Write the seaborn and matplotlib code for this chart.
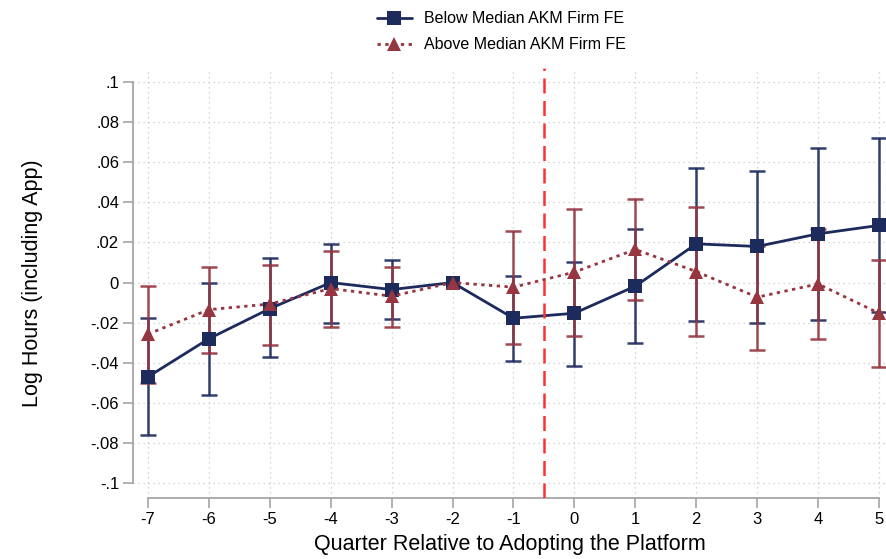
import numpy as np
import pandas as pd
import matplotlib
matplotlib.use("Agg")
import matplotlib.pyplot as plt
import seaborn as sns

# Event-study estimates by quarter relative to platform adoption
quarters = [-7, -6, -5, -4, -3, -2, -1, 0, 1, 2, 3, 4, 5]

below_coef = [-0.047, -0.028, -0.013, 0.000, -0.0035, 0.0, -0.0178, -0.0153, -0.0018, 0.0193, 0.018, 0.0243, 0.0285]
below_lo = [-0.076, -0.056, -0.037, -0.020, -0.018, 0.0, -0.039, -0.0415, -0.0303, -0.019, -0.020, -0.0185, -0.0148]
below_hi = [-0.0178, 0.000, 0.012, 0.0193, 0.011, 0.0, 0.0035, 0.010, 0.0265, 0.0573, 0.0557, 0.0673, 0.072]

above_coef = [-0.0257, -0.0135, -0.0107, -0.003, -0.0068, 0.0, -0.0023, 0.0052, 0.0165, 0.0055, -0.0073, -0.0007, -0.0153]
above_lo = [-0.050, -0.035, -0.031, -0.022, -0.022, 0.0, -0.0307, -0.0265, -0.0085, -0.0268, -0.0337, -0.028, -0.0423]
above_hi = [-0.0015, 0.0077, 0.0088, 0.0157, 0.0077, 0.0, 0.0257, 0.0365, 0.0415, 0.0377, 0.018, 0.0268, 0.011]

series_names = ["Below Median AKM Firm FE", "Above Median AKM Firm FE"]
y_ticks = [-0.1, -0.08, -0.06, -0.04, -0.02, 0, 0.02, 0.04, 0.06, 0.08, 0.1]
y_tick_labels = ["-.1", "-.08", "-.06", "-.04", "-.02", "0", ".02", ".04", ".06", ".08", ".1"]
adoption_line = -0.5

NAVY = "#1c2a5c"
CRANBERRY = "#953640"
GRID = "#c8c8c8"
AXIS = "#a6a6a6"

sns.set_theme(style="white")
plt.rcParams["font.family"] = ["Liberation Sans", "DejaVu Sans"]
plt.rcParams["text.color"] = "black"
plt.rcParams["axes.labelcolor"] = "black"

df = pd.concat([
    pd.DataFrame({"quarter": quarters, "coef": below_coef, "lo": below_lo, "hi": below_hi,
                  "group": series_names[0]}),
    pd.DataFrame({"quarter": quarters, "coef": above_coef, "lo": above_lo, "hi": above_hi,
                  "group": series_names[1]}),
])

fig = plt.figure(figsize=(8.86, 5.59), dpi=100)
ax = fig.add_axes([0.1501, 0.1096, 0.8499, 0.7688])

palette = {series_names[0]: NAVY, series_names[1]: CRANBERRY}

# confidence intervals as capped vertical bars
for name in series_names:
    sub = df[df["group"] == name]
    sub = sub[sub["hi"] != sub["lo"]]
    ax.errorbar(sub["quarter"], sub["coef"],
                yerr=[sub["coef"] - sub["lo"], sub["hi"] - sub["coef"]],
                fmt="none", ecolor=palette[name], elinewidth=1.8,
                capsize=6, capthick=1.8, alpha=0.9, zorder=2)

# point estimates connected by lines
sns.lineplot(data=df, x="quarter", y="coef", hue="group", style="group",
             hue_order=series_names, style_order=series_names,
             palette=palette, markers={series_names[0]: "s", series_names[1]: "^"},
             dashes={series_names[0]: "", series_names[1]: (1.2, 1.6)},
             markersize=10, markeredgewidth=0, linewidth=2, ax=ax, zorder=3)

ax.axvline(adoption_line, color="#ff3030", linestyle=(0, (6, 3)), linewidth=1.8, zorder=4)

ax.set_xlim(-7.246, 5.115)
ax.set_ylim(-0.1073, 0.107)
ax.set_xticks(quarters)
ax.set_xticklabels([str(q) for q in quarters])
ax.set_yticks(y_ticks)
ax.set_yticklabels(y_tick_labels)

ax.grid(True, color=GRID, linestyle=(0, (1, 3)), linewidth=0.9)
ax.set_axisbelow(True)

for side in ["top", "right"]:
    ax.spines[side].set_visible(False)
for side in ["left", "bottom"]:
    ax.spines[side].set_color(AXIS)
    ax.spines[side].set_linewidth(1.3)
ax.spines["left"].set_bounds(-0.1, 0.1)
ax.spines["bottom"].set_bounds(-7, 5)

ax.tick_params(axis="both", which="major", direction="out", length=7, width=1.2,
               color=AXIS, labelsize=12, labelcolor="black", pad=3,
               left=True, bottom=True)

ax.set_xlabel("Quarter Relative to Adopting the Platform", fontsize=15.5, labelpad=5, color="black")
ax.set_ylabel("Log Hours (including App)", fontsize=15.5, labelpad=34, color="black")

handles, labels = ax.get_legend_handles_labels()
ax.legend_.remove() if ax.legend_ is not None else None
fig.legend(handles=handles, labels=labels, loc="upper center",
           bbox_to_anchor=(0.566, 1.0), frameon=False, fontsize=11.5,
           handlelength=2.2, handletextpad=0.8, labelspacing=0.7, borderaxespad=0.3,
           labelcolor="black")

fig.savefig("out.png", dpi=100)
